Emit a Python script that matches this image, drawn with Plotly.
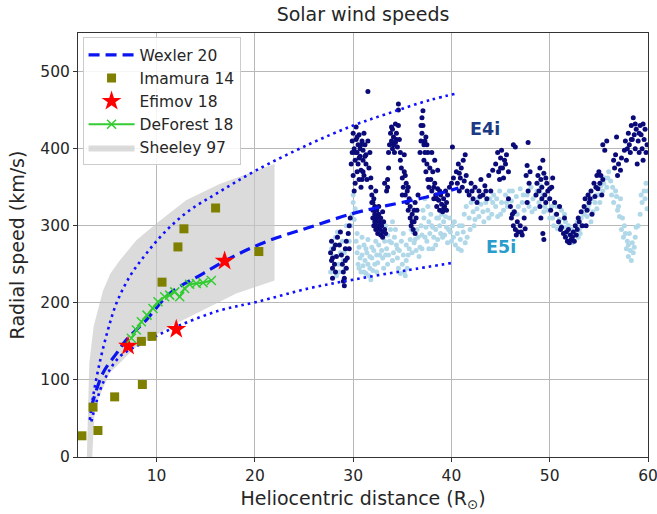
import plotly.graph_objects as go

# ---------------- data ----------------
wexler_x = [3.36, 4.54, 5.9, 6.92, 8.96, 11.33, 14.72, 18.1, 21.5, 25.57, 30.0, 33.4, 37.4, 40.7]
wexler_y = [65, 109, 134, 152, 178, 212, 238, 262, 281, 298, 316, 326, 337, 349]

upper_x = [3.2, 3.53, 4.2, 5.05, 5.9, 7.26, 8.96, 11.0, 13.36, 16.4, 20.15, 25.57, 30.0, 33.4, 37.8, 40.7]
upper_y = [48, 78, 122, 165, 199, 234, 264, 294, 320, 344, 372, 406, 430, 445, 463, 472]

lower_x = [3.36, 4.54, 6.24, 8.6, 12.0, 16.4, 20.15, 25.57, 30.0, 35.4, 40.2]
lower_y = [46, 96, 130, 148, 169, 190, 201, 219, 230, 242, 252]

imamura_x = [2.4, 3.53, 4.03, 5.73, 8.55, 8.45, 9.53, 10.55, 12.17, 12.78, 16.0, 20.4]
imamura_y = [27.5, 64.7, 34.4, 78, 94, 150, 156.5, 226.8, 272.5, 296, 323, 266.5]

efimov_x = [7.09, 12.0, 16.92]
efimov_y = [144, 165.6, 254.3]

deforest_x = [7.43, 7.94, 8.45, 9.02, 9.63, 10.14, 10.82, 11.33, 11.84, 12.35, 12.85, 13.36, 14.04, 14.72, 15.57]
deforest_y = [154, 164.7, 175.4, 184, 192.7, 201.3, 207.8, 210, 214.2, 207.8, 218.6, 224, 225, 226, 229]

sheeley_x = [2.9, 3.0, 3.15, 3.6, 4.55, 5.3, 6.24, 7.94, 9.97, 13.0, 16.4, 22.0,
             22.0, 18.1, 14.7, 11.33, 7.94, 5.22, 3.7, 3.45, 2.9]
sheeley_y = [0, 60, 122, 170, 216, 238, 255, 281, 303, 333, 354, 380,
             229, 212, 190, 169, 143, 109, 65, 0, 0]

e4i_points = [
    (27.7,265),(27.8,255),(27.9,245),(27.8,280),(28.0,270),(28.1,250),(28.2,240),(27.9,232),(28.3,260),
    (28.4,285),(28.6,275),(28.8,262),(28.9,250),(29.0,240),(29.1,232),(29.0,228),(29.2,270),(29.3,280),
    (29.4,258),(29.5,290),(29.6,300),(29.3,245),(28.7,292),(29.7,310),(29.1,222),
    (27.9,258),(28.2,275),(29.2,255),(29.6,270),
    (29.8,380),(29.9,395),(29.9,410),(30.0,365),(30.0,420),(30.1,400),(30.2,385),(30.2,355),(30.3,412),
    (30.3,428),(30.4,370),(30.4,395),(30.5,405),(30.5,380),(30.6,360),(30.6,418),(30.7,390),(30.7,400),
    (30.8,372),(30.8,350),(30.9,410),(31.0,385),(31.0,398),(31.1,365),(31.1,420),(31.2,405),(31.3,380),
    (31.3,392),(31.4,360),(31.5,410),(31.5,474),(31.6,375),(31.7,395),(30.1,345),(30.9,360),
    (30.2,395),(30.4,415),(30.6,388),(30.8,405),(31.0,370),(31.2,390),
    (31.8,350),(31.9,340),(31.9,330),(32.0,320),(32.0,310),(32.1,300),(32.1,335),(32.2,325),(32.2,315),
    (32.3,305),(32.3,295),(32.4,320),(32.4,310),(32.5,300),(32.5,290),(32.6,315),(32.6,325),(32.7,305),
    (32.7,295),(32.8,288),(32.8,310),(32.9,300),(33.0,292),(33.0,285),(33.1,305),(33.2,295),(33.2,355),
    (32.3,345),(31.8,362),(33.4,345),
    (32.0,330),(32.2,305),(32.5,312),(32.8,300),(33.0,318),(33.3,290),
    (33.5,360),(33.6,375),(33.5,350),(33.6,395),(33.7,405),(33.8,420),(33.9,410),(34.0,400),(34.0,425),
    (34.1,415),(34.2,395),(34.3,408),(34.4,420),(34.5,402),(34.6,430),(34.6,450),(34.6,458),(34.7,412),
    (33.9,428),(34.3,432),(34.1,405),(34.4,412),(34.8,395),
    (34.8,385),(34.9,375),(35.0,362),(35.1,350),(35.2,370),(35.3,340),(35.4,355),(35.5,330),(35.5,345),
    (35.6,320),(35.7,335),(35.8,310),(35.8,325),(35.9,300),(36.0,315),(36.1,295),(36.2,305),(36.3,290),
    (36.3,330),(36.5,320),(36.6,340),(35.2,392),(35.0,340),(36.4,310),
    (35.3,365),(35.6,350),(36.0,305),(36.2,320),
    (36.8,395),(36.9,410),(36.9,430),(37.0,440),(37.1,449),(37.0,420),(37.2,405),(37.2,385),(37.3,395),
    (37.4,370),(37.4,415),(37.5,380),(37.6,360),(37.6,395),(37.7,350),(37.8,375),
    (37.1,430),(37.3,410),(37.5,405),
    (37.9,360),(38.0,345),(38.1,370),(38.2,335),(38.3,355),(38.4,340),(38.5,325),(38.6,348),(38.7,333),
    (38.8,320),(38.9,340),(39.0,328),(39.1,318),(39.2,335),(39.3,325),(39.4,345),(39.5,330),(39.6,340),
    (39.8,350),(40.0,355),(40.1,402),(40.2,362),(38.3,385),(38.0,395),(38.6,372),
    (38.2,350),(38.5,335),(38.8,345),(39.2,322),(39.5,320),
    (40.5,370),(40.6,355),(40.7,380),(40.8,345),(40.9,362),(41.0,375),(41.1,350),(41.2,385),(41.4,392),
    (41.5,365),(41.6,345),(41.8,340),(42.0,355),(42.2,335),(42.4,350),(42.6,330),(42.8,345),(43.0,360),
    (43.2,340),(43.4,352),(43.6,335),(43.8,365),(44.0,345),(44.2,372),
    (40.8,368),(41.3,358),(42.1,345),(42.9,338),(43.5,345),
    (44.5,380),(44.7,395),(44.8,370),(45.0,388),(45.1,398),(45.2,375),(45.3,362),(45.4,385),(45.6,392),
    (45.8,370),(44.9,360),(46.3,405),(46.5,402),(45.0,375),(45.5,380),
    (45.8,335),(46.0,325),(46.1,310),(46.3,300),(46.4,318),(46.5,295),(46.7,305),(46.8,292),(47.0,300),
    (47.2,288),(47.4,310),(47.5,296),(47.7,330),(47.8,345),(46.2,315),(46.6,288),(47.1,292),
    (47.6,365),(47.7,378),(47.8,408),(47.9,355),(48.0,370),
    (48.6,340),(48.7,355),(48.8,365),(48.9,345),(49.0,375),(49.1,360),(49.2,350),(49.3,385),(49.4,368),
    (49.5,340),(49.6,330),(49.3,290),(49.4,282),(49.7,355),(49.8,345),(50.0,335),(50.1,320),(50.2,350),
    (50.3,362),(50.5,330),(49.0,325),(49.1,310),(49.2,335),(49.6,362),(50.0,348),
    (50.7,315),(50.9,305),(51.0,325),(51.2,298),(51.4,290),(51.5,310),(51.6,285),(51.8,280),(51.9,295),
    (52.0,278),(52.1,288),(52.2,282),(52.4,292),(52.5,280),(52.6,300),(52.8,295),(52.9,310),(53.0,305),
    (53.2,318),(53.3,300),(51.1,295),(51.7,292),(52.3,285),(52.7,288),
    (53.5,325),(53.6,335),(53.8,320),(53.9,340),(54.0,330),(54.2,345),(54.3,315),(54.5,355),(54.6,338),
    (54.8,365),(54.9,348),(55.0,370),(55.1,355),(55.3,340),(55.4,360),(53.7,300),
    (54.1,335),(54.7,350),(55.2,365),
    (55.4,405),(55.6,398),(55.8,410),(56.5,385),(56.6,375),(56.7,392),(56.9,365),(57.0,380),(57.2,372),
    (57.3,388),(56.8,415),(57.6,398),(57.7,410),(57.8,385),(58.0,420),(58.1,405),(58.2,395),(58.3,430),
    (58.4,412),(58.5,440),(58.6,418),(58.7,400),(58.8,425),(58.9,380),(59.0,410),(59.1,395),(59.2,430),
    (59.3,418),(59.4,400),(59.5,385),(59.6,412),(59.7,425),(59.8,395),(59.9,405),
    (57.9,400),(58.3,412),(58.7,432),(59.1,420),(59.5,432),
]

e5i_points = [
    (27.7,240),(27.8,270),(28.0,260),(28.2,285),(28.3,235),(28.5,250),(28.7,265),(28.9,280),(29.0,255),
    (29.2,245),(29.4,270),(29.5,290),(28.1,275),(28.4,292),(28.6,240),(29.1,265),(29.3,300),(29.6,280),
    (29.8,300),(29.9,315),(30.0,330),(30.0,340),(30.1,308),(30.2,322),
    (30.3,280),(30.4,265),(30.5,250),(30.6,272),(30.7,258),(30.8,240),(30.9,262),(31.0,248),(31.1,275),
    (31.2,255),(31.3,238),(31.4,265),(31.5,250),(31.6,235),(31.7,245),(31.8,230),(31.9,258),(32.0,242),
    (32.1,268),(30.4,290),(30.6,245),(30.9,285),(31.1,240),(31.3,270),(31.5,282),(31.7,260),(31.9,272),
    (32.3,280),(32.4,262),(32.5,252),(32.6,275),(32.8,290),(32.9,268),(33.0,258),(33.2,280),(33.3,300),
    (33.4,270),(33.5,288),(33.6,262),(33.8,295),(33.9,278),(34.0,305),(34.1,265),(34.2,285),(34.4,275),
    (34.5,258),(34.6,245),(34.7,268),(34.8,238),(35.0,250),(35.1,262),(35.2,240),(35.3,235),(35.4,255),
    (35.5,245),(32.2,250),(32.4,240),(32.7,262),(33.1,245),(33.3,262),(33.5,250),(33.7,280),(34.0,255),
    (34.3,295),(34.5,270),(34.9,280),(35.1,290),(35.4,275),
    (35.7,270),(35.8,282),(36.0,265),(36.1,292),(36.2,278),(36.4,268),(36.5,295),(36.6,285),(36.8,272),
    (36.9,300),(37.0,288),(37.1,320),(37.2,310),(37.3,335),(37.4,298),(37.5,280),(37.6,325),(37.7,305),
    (37.8,290),(37.9,315),(38.0,300),(38.1,270),(38.2,285),(35.6,262),(35.9,295),(36.3,282),(36.7,260),
    (37.0,270),(37.3,285),(37.7,270),(38.1,298),
    (38.4,295),(38.5,310),(38.6,282),(38.8,300),(38.9,290),(39.0,315),(39.2,305),(39.3,288),(39.5,298),
    (39.6,278),(39.8,310),(39.9,292),(40.1,300),(40.2,285),(38.4,275),(38.7,310),(39.1,285),(39.4,312),
    (39.7,295),(40.0,280),(40.3,305),
    (40.4,275),(40.6,290),(40.7,270),(40.9,282),(41.0,268),(41.2,292),(41.4,278),(41.6,285),(40.8,300),
    (41.1,300),(41.9,295),(42.3,300),
    (41.3,315),(41.5,325),(41.8,310),(42.0,330),(42.2,318),(42.4,308),(42.6,322),(42.8,312),(43.0,328),
    (43.2,318),(43.5,330),(42.7,335),(43.3,305),(43.8,310),(44.2,330),(44.6,335),(45.0,315),
    (43.7,320),(43.9,335),(44.1,315),(44.3,340),(44.5,325),(44.7,312),(44.9,345),
    (45.1,330),(45.3,320),(45.5,340),(45.7,325),(45.9,345),(46.1,332),(46.3,318),(46.6,338),(46.8,325),
    (47.0,348),(47.2,330),(47.4,320),(45.6,330),(46.2,345),(46.7,315),(47.3,340),
    (47.7,340),(47.9,325),(48.1,350),(48.3,335),(48.5,322),(48.7,345),(48.9,330),(49.1,352),(49.3,340),
    (49.5,325),(47.8,330),(48.2,318),(48.6,340),(49.0,345),(49.4,318),(49.9,335),
    (49.8,320),(50.0,310),(50.2,325),(50.4,300),(50.6,315),(50.8,296),(51.0,308),(51.2,320),(51.4,298),
    (51.6,305),(50.3,310),(50.7,325),(51.1,300),(51.5,315),
    (51.8,290),(52.0,282),(52.2,295),(52.3,278),(52.5,288),(52.7,300),(52.9,285),(53.0,295),
    (51.9,300),(52.4,292),(52.8,305),(53.1,290),
    (53.2,310),(53.4,300),(53.6,322),(53.8,312),(54.0,328),(54.2,305),(54.4,318),(54.6,330),(54.8,322),
    (53.5,315),(53.9,322),(54.3,335),(54.7,340),
    (55.0,340),(55.2,352),(55.4,345),(55.6,362),(55.8,350),(56.0,370),(56.2,358),(56.3,340),
    (55.1,330),(55.5,355),(55.9,362),(56.4,350),
    (56.5,330),(56.7,345),(56.9,320),(57.1,312),(57.2,335),(56.8,338),(57.0,325),(57.4,310),
    (57.3,295),(57.5,285),(57.6,300),(57.8,270),(57.9,280),(58.0,260),(58.1,290),(58.2,268),(58.3,255),
    (58.4,278),(58.5,265),(58.7,285),(58.8,298),(57.7,290),(58.0,275),(58.6,272),
    (59.2,315),(59.4,330),(59.6,345),(59.8,355),(59.9,322),(59.0,300),(59.3,340),(59.7,335),(60.0,345),
]

x_ticks = [10, 20, 30, 40, 50, 60]
y_ticks = [0, 100, 200, 300, 400, 500]

# ---------------- figure ----------------
FONT = "DejaVu Sans"
TXT = "#262626"

fig = go.Figure()

fig.add_trace(go.Scatter(x=sheeley_x, y=sheeley_y, fill="toself", mode="lines",
                         line=dict(width=0), fillcolor="rgba(200,200,200,0.65)",
                         name="Sheeley 97", legendrank=5, hoverinfo="skip"))

fig.add_trace(go.Scatter(x=[p[0] for p in e5i_points], y=[p[1] for p in e5i_points],
                         mode="markers", marker=dict(color="#b0d8e8", size=5),
                         showlegend=False, name="E5i"))
fig.add_trace(go.Scatter(x=[p[0] for p in e4i_points], y=[p[1] for p in e4i_points],
                         mode="markers", marker=dict(color="#0a0a78", size=5),
                         showlegend=False, name="E4i"))

fig.add_trace(go.Scatter(x=upper_x, y=upper_y, mode="lines", line_shape="spline",
                         line=dict(color="#1010ff", width=2.6, dash="2.6px,4px"),
                         showlegend=False))
fig.add_trace(go.Scatter(x=lower_x, y=lower_y, mode="lines", line_shape="spline",
                         line=dict(color="#1010ff", width=2.6, dash="2.6px,4px"),
                         showlegend=False))

fig.add_trace(go.Scatter(x=wexler_x, y=wexler_y, mode="lines", line_shape="spline",
                         line=dict(color="#0a14f0", width=3.2, dash="11px,6px"),
                         name="Wexler 20", legendrank=1))

fig.add_trace(go.Scatter(x=imamura_x, y=imamura_y, mode="markers",
                         marker=dict(color="#7f7f00", symbol="square", size=9),
                         name="Imamura 14", legendrank=2))

fig.add_trace(go.Scatter(x=efimov_x, y=efimov_y, mode="markers",
                         marker=dict(color="#ff0000", symbol="star", size=15, line=dict(width=0)),
                         name="Efimov 18", legendrank=3))

fig.add_trace(go.Scatter(x=deforest_x, y=deforest_y, mode="lines+markers",
                         line=dict(color="#33cc33", width=2),
                         marker=dict(color="#33cc33", symbol="x-thin", size=9,
                                     line=dict(color="#33cc33", width=1.5)),
                         name="DeForest 18", legendrank=4))

fig.add_annotation(x=43.4, y=426, text="<b>E4i</b>", showarrow=False,
                   font=dict(family=FONT, size=17.5, color="#1c3a84"))
fig.add_annotation(x=45.0, y=272, text="<b>E5i</b>", showarrow=False,
                   font=dict(family=FONT, size=17.5, color="#2a9ccc"))

axis_common = dict(showline=True, linecolor="#333333", linewidth=1, mirror=True,
                   ticks="outside", ticklen=4, tickcolor="#333333", automargin=False,
                   ticklabeloverflow="allow",
                   showgrid=True, gridcolor="#b8b8b8", gridwidth=1, zeroline=False,
                   tickfont=dict(family=FONT, size=15.5, color=TXT))

fig.update_layout(
    width=657, height=514,
    margin=dict(l=78, r=9, t=33, b=57),
    paper_bgcolor="white", plot_bgcolor="white",
    font=dict(family=FONT, color=TXT),
    title=dict(text="Solar wind speeds", xref="paper", x=0.5, xanchor="center",
               yref="container", y=0.972, yanchor="middle",
               font=dict(family=FONT, size=19, color=TXT)),
    xaxis=dict(range=[2, 60], tickvals=x_ticks,
               title=dict(text="Heliocentric distance (R<sub>⊙</sub>)", standoff=8,
                          font=dict(family=FONT, size=19, color=TXT)),
               **axis_common),
    yaxis=dict(range=[0, 550], tickvals=y_ticks,
               title=dict(text="Radial speed (km/s)", standoff=10,
                          font=dict(family=FONT, size=19, color=TXT)),
               **axis_common),
    legend=dict(x=0.008, y=0.99, xanchor="left", yanchor="top",
                bgcolor="rgba(255,255,255,0.85)", bordercolor="#cccccc", borderwidth=1,
                font=dict(family=FONT, size=15.5, color=TXT), itemwidth=46,
                tracegroupgap=0),
    showlegend=True,
)

fig.write_html("out.html", config={"displayModeBar": False},
               post_script="document.body.style.margin='0px';")
